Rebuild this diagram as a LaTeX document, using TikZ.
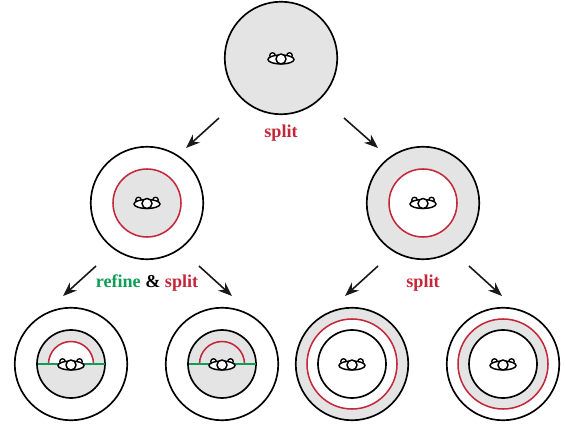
\documentclass[tikz,border=0pt]{standalone}
\usepackage{fontspec}
\setmainfont{Liberation Serif}
\usetikzlibrary{arrows.meta,shapes.geometric}
\definecolor{myred}{HTML}{C4273A}
\definecolor{mygreen}{HTML}{0F9D58}
\definecolor{mygray}{HTML}{E4E4E4}
\newlength{\pxu}\setlength{\pxu}{0.75pt}
\tikzset{
  x=\pxu,y=-\pxu,
  ringline/.style={circle,draw=black,line width=1.25pt,inner sep=0pt,outer sep=0pt},
  outerc/.style={ringline,minimum size=112.5\pxu},
  innerc/.style={ringline,minimum size=68\pxu},
  redc/.style={circle,draw=myred,line width=1.15pt,inner sep=0pt,outer sep=0pt},
  midred/.style={redc,minimum size=68\pxu},
  bigred/.style={redc,minimum size=90\pxu},
  redarc/.style={draw=myred,line width=1.15pt},
  greenline/.style={draw=mygreen,line width=1.3pt},
  flow/.style={draw=black!90,line width=1.2pt,-{Stealth[length=10.5pt,width=8pt]}},
  lab/.style={font=\bfseries\fontsize{13.6}{16}\selectfont,inner sep=0pt},
  blobmain/.style={ellipse,draw=black,line width=1.1pt,fill=white,inner sep=0pt,minimum width=26\pxu,minimum height=9\pxu},
  blobball/.style={circle,draw=black,line width=1.1pt,fill=white,inner sep=0pt,minimum size=10\pxu},
  blobbump/.style={circle,draw=black,line width=1pt,fill=white,inner sep=0pt,minimum size=5.5\pxu},
}
\newcommand{\blobat}[2]{%
  \node[blobbump] at (#1-8.5,#2-4) {};
  \node[blobbump] at (#1+8.5,#2-4) {};
  \node[blobmain] at (#1,#2) {};
  \node[blobball] at (#1,#2-0.5) {};
}
\begin{document}
\begin{tikzpicture}
\useasboundingbox (0,0) rectangle (566,427);
% top
\node[outerc,fill=mygray] (top) at (281,58) {};
\blobat{281}{59.5}
% mid left
\node[outerc,fill=white] (ml) at (147,203) {};
\node[midred,fill=mygray] (mlr) at (147,203) {};
\blobat{147}{204}
% mid right
\node[outerc,fill=mygray] (mr) at (423,203) {};
\node[midred,fill=white] (mrr) at (423,203) {};
\blobat{423}{204}
% bottom 1
\node[outerc,fill=white] (b1) at (71,364) {};
\node[innerc,fill=mygray] (b1i) at (71,364) {};
\coordinate (b1l) at (38,364);
\coordinate (b1r) at (105,364);
\fill[white] (48.5,364) arc[start angle=180,end angle=360,x radius=22.5,y radius=22.5] -- cycle;
\draw[redarc] (48.5,364) arc[start angle=180,end angle=360,x radius=22.5,y radius=22.5];
\draw[greenline] (b1l) -- (b1r);
\blobat{71}{365.5}
% bottom 2
\node[outerc,fill=white] (b2) at (222,364) {};
\node[innerc,fill=mygray] (b2i) at (222,364) {};
\coordinate (b2l) at (189,364);
\coordinate (b2r) at (256,364);
\draw[redarc] (199.5,364) arc[start angle=180,end angle=360,x radius=22.5,y radius=22.5];
\draw[greenline] (b2l) -- (b2r);
\blobat{222}{365.5}
% bottom 3
\node[outerc,fill=mygray] (b3) at (352,364) {};
\node[bigred,fill=white] (b3r) at (352,364) {};
\node[innerc,fill=white] (b3i) at (352,364) {};
\blobat{352}{365.5}
% bottom 4
\node[outerc,fill=white] (b4) at (503,364) {};
\node[bigred,fill=mygray] (b4r) at (503,364) {};
\node[innerc,fill=white] (b4i) at (503,364) {};
\blobat{503}{365.5}
% arrows
\coordinate (a1s) at (219,118); \coordinate (a1e) at (186,148);
\coordinate (a2s) at (344,118); \coordinate (a2e) at (378,148);
\coordinate (a3s) at (96,266);  \coordinate (a3e) at (63,296);
\coordinate (a4s) at (199,266); \coordinate (a4e) at (232,296);
\coordinate (a5s) at (378,266); \coordinate (a5e) at (345,296);
\coordinate (a6s) at (469,266); \coordinate (a6e) at (502,296);
\draw[flow] (a1s) -- (a1e);
\draw[flow] (a2s) -- (a2e);
\draw[flow] (a3s) -- (a3e);
\draw[flow] (a4s) -- (a4e);
\draw[flow] (a5s) -- (a5e);
\draw[flow] (a6s) -- (a6e);
% labels
\node[lab,text=myred] (l1) at (281,133) {split};
\node[lab] (l2) at (147,283) {\textcolor{mygreen}{refine} \& \textcolor{myred}{split}};
\node[lab,text=myred] (l3) at (423,283) {split};
\end{tikzpicture}
\end{document}
